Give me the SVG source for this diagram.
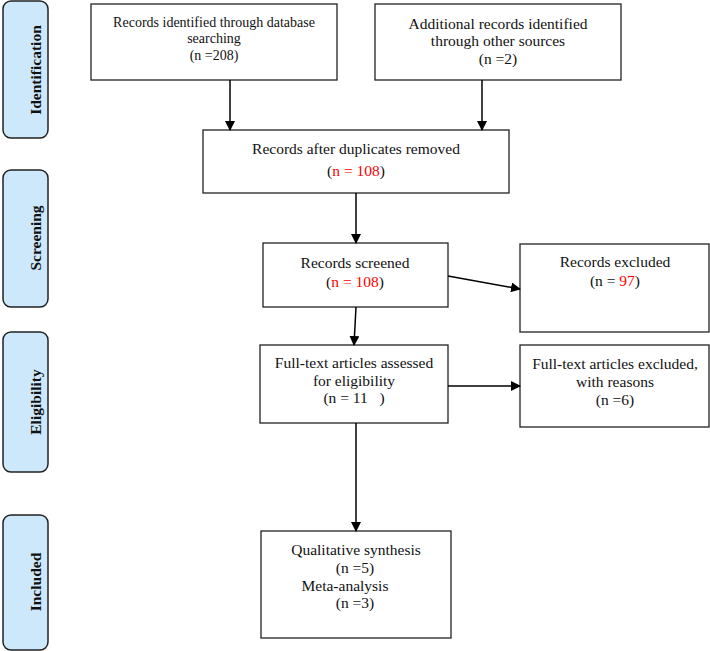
<svg xmlns="http://www.w3.org/2000/svg" width="710" height="651" viewBox="0 0 710 651">
<defs>
<marker id="ah" markerWidth="10" markerHeight="10" refX="9" refY="5" orient="auto" markerUnits="userSpaceOnUse">
<path d="M0,0 L10,5 L0,10 z" fill="#000"/>
</marker>
<style>
.phase{fill:#cde8fb;stroke:#222;stroke-width:1.5}
.box{fill:#fff;stroke:#222;stroke-width:1.3}
.t{font-family:"Liberation Serif","Times New Roman",serif;font-size:15.5px;fill:#111;text-anchor:middle}
.s{font-size:14px}
.pt{font-family:"Liberation Serif","Times New Roman",serif;font-size:15.5px;font-weight:bold;fill:#111;text-anchor:middle}
.red{fill:#ff0000}
.c{stroke:#000;stroke-width:1.5;fill:none;marker-end:url(#ah)}
</style>
</defs>
<rect width="710" height="651" fill="#fff"/>
<g id="phase-identification">
<rect class="phase" x="3" y="1" width="45" height="137" rx="8"/>
<text class="pt" transform="translate(41,70) rotate(-90)">Identification</text>
</g>
<g id="phase-screening">
<rect class="phase" x="3" y="170" width="45" height="137" rx="8"/>
<text class="pt" transform="translate(41,238) rotate(-90)">Screening</text>
</g>
<g id="phase-eligibility">
<rect class="phase" x="3" y="332" width="45" height="140" rx="8"/>
<text class="pt" transform="translate(41,402) rotate(-90)">Eligibility</text>
</g>
<g id="phase-included">
<rect class="phase" x="3" y="515" width="45" height="135" rx="8"/>
<text class="pt" transform="translate(41,582) rotate(-90)">Included</text>
</g>
<g id="n-database">
<rect class="box" x="91" y="4" width="246" height="76"/>
<text class="t s" x="214" y="27">Records identified through database</text>
<text class="t s" x="214" y="43">searching</text>
<text class="t s" x="214" y="60">(n =208)</text>
</g>
<g id="n-other">
<rect class="box" x="375" y="4" width="246" height="76"/>
<text class="t" x="498" y="29">Additional records identified</text>
<text class="t" x="498" y="46">through other sources</text>
<text class="t" x="498" y="64">(n =2)</text>
</g>
<g id="n-duplicates">
<rect class="box" x="203" y="130" width="306" height="63"/>
<text class="t" x="356" y="154">Records after duplicates removed</text>
<text class="t" x="356" y="176">(<tspan class="red">n = 108</tspan>)</text>
</g>
<g id="n-screened">
<rect class="box" x="263" y="243" width="185" height="64"/>
<text class="t" x="355" y="268">Records screened</text>
<text class="t" x="355" y="287">(<tspan class="red">n = 108</tspan>)</text>
</g>
<g id="n-excluded">
<rect class="box" x="520" y="244" width="189" height="88"/>
<text class="t" x="615" y="267">Records excluded</text>
<text class="t" x="615" y="286">(n = <tspan class="red">97</tspan>)</text>
</g>
<g id="n-fulltext">
<rect class="box" x="260" y="345" width="188" height="78"/>
<text class="t" x="354" y="368">Full-text articles assessed</text>
<text class="t" x="354" y="386">for eligibility</text>
<text class="t" x="354" y="403" xml:space="preserve">(n = 11   )</text>
</g>
<g id="n-fulltext-excluded">
<rect class="box" x="520" y="345" width="189" height="82"/>
<text class="t" x="615" y="369">Full-text articles excluded,</text>
<text class="t" x="615" y="387">with reasons</text>
<text class="t" x="615" y="405">(n =6)</text>
</g>
<g id="n-included">
<rect class="box" x="261" y="531" width="190" height="107"/>
<text class="t" x="356" y="555">Qualitative synthesis</text>
<text class="t" x="355" y="573">(n =5)</text>
<text class="t" x="345" y="591">Meta-analysis</text>
<text class="t" x="355" y="608">(n =3)</text>
</g>
<g id="connectors">
<line class="c" x1="230" y1="80" x2="230" y2="130"/>
<line class="c" x1="482" y1="80" x2="482" y2="130"/>
<line class="c" x1="356" y1="193" x2="356" y2="243"/>
<line class="c" x1="356" y1="307" x2="354" y2="345"/>
<line class="c" x1="448" y1="276" x2="520" y2="289"/>
<line class="c" x1="448" y1="386" x2="520" y2="386"/>
<line class="c" x1="356" y1="423" x2="356" y2="531"/>
</g>
</svg>
